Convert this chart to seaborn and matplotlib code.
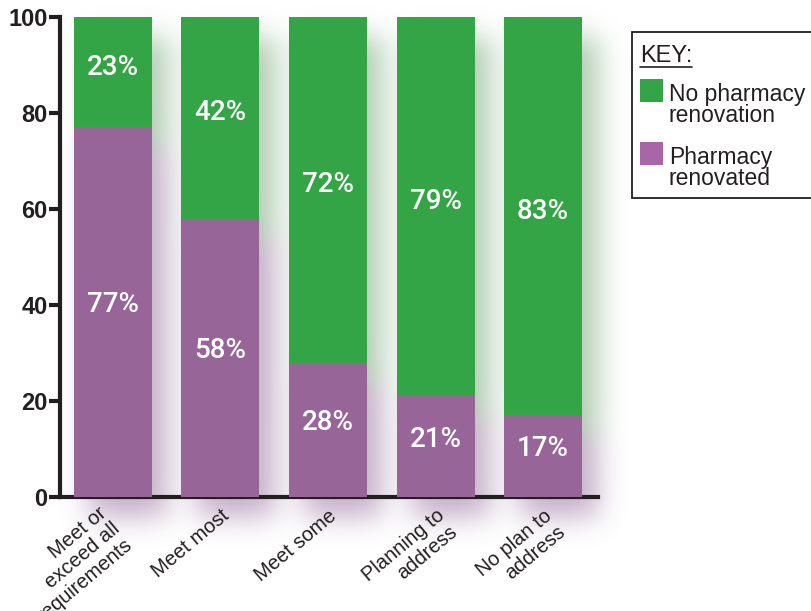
import matplotlib
matplotlib.use("Agg")
import matplotlib.pyplot as plt
import seaborn as sns
import pandas as pd
import numpy as np
from matplotlib.patches import Rectangle
from matplotlib.lines import Line2D

categories = ["Meet or\nexceed all\nrequirements", "Meet most", "Meet some",
              "Planning to\naddress", "No plan to\naddress"]
renovated = [77, 58, 28, 21, 17]
no_renovation = [23, 42, 72, 79, 83]
yticks = [0, 20, 40, 60, 80, 100]
legend_title = "KEY:"
legend_labels = ["No pharmacy\nrenovation", "Pharmacy\nrenovated"]

green = "#34a546"
purple = "#976597"
purple_key = "#a866a8"
ink = "#231f20"

sns.set_theme(style="white")
plt.rcParams["font.family"] = ["Liberation Sans", "DejaVu Sans"]

df = pd.DataFrame({"cat": categories,
                   "total": [r + n for r, n in zip(renovated, no_renovation)],
                   "renovated": renovated,
                   "no_renovation": no_renovation})

W, H = 811, 611
fig = plt.figure(figsize=(W / 100, H / 100), dpi=100)
fig.patch.set_facecolor("white")
ax = fig.add_axes([60 / W, 1 - 497 / H, (598 - 60) / W, (497 - 17) / H])
ax.patch.set_alpha(0)

sns.barplot(data=df, x="cat", y="total", color=green, width=0.725,
            saturation=1, ax=ax, zorder=3)
sns.barplot(data=df, x="cat", y="renovated", color=purple, width=0.725,
            saturation=1, ax=ax, zorder=3)
for cont in ax.containers:
    for bar in cont:
        bar.set_linewidth(0)

ax.set_xlim(-0.49, 4.51)
ax.set_ylim(0, 100)

# percentage labels
for i, (r, n) in enumerate(zip(renovated, no_renovation)):
    ax.text(i, r + n / 2 + 1, f"{n}%", ha="center", va="center", color="white",
            fontsize=20, fontweight="medium", family=["Roboto", "DejaVu Sans"], zorder=5)
    ax.text(i, r / 2 + 1.5, f"{r}%", ha="center", va="center", color="white",
            fontsize=20, fontweight="medium", family=["Roboto", "DejaVu Sans"], zorder=5)

ax.set_yticks(yticks)
ax.set_yticklabels([str(t) for t in yticks], fontsize=17, fontweight="bold", color=ink)
ax.set_xlabel("")
ax.set_ylabel("")
ax.set_xticks(range(len(categories)))
label_kw = dict(rotation=40, ha="right", rotation_mode="anchor", fontsize=14.5,
                color=ink, multialignment="right", linespacing=1.1)
ax.set_xticklabels([""] + categories[1:], **label_kw)
# the first (three-line) label sits a little left of its tick in the original
ax.annotate(categories[0], xy=(0, 0), xycoords=ax.get_xaxis_transform(),
            xytext=(-15, -6), textcoords="offset pixels", va="top", **label_kw)
ax.tick_params(axis="y", left=True, length=8, width=3, color=ink, pad=1)
ax.tick_params(axis="x", bottom=False, pad=0.5)
for s in ["top", "right"]:
    ax.spines[s].set_visible(False)
for s in ["left", "bottom"]:
    ax.spines[s].set_linewidth(3)
    ax.spines[s].set_color(ink)
ax.spines["bottom"].set_bounds(-0.49, 4.51)

# soft drop shadow behind the bars (derived from bar patches)
fig.canvas.draw()
rgb = np.zeros((H, W, 3))
alpha = np.zeros((H, W))
off_x, off_y = 16, 20
def paint(bar, col):
    bb = bar.get_window_extent()
    x0, x1 = int(bb.x0) + off_x, int(bb.x1) + off_x
    y0, y1 = int(H - bb.y1) + off_y, int(H - bb.y0) + off_y
    c = np.array(matplotlib.colors.to_rgb(col))
    rgb[max(y0, 0):y1, max(x0, 0):x1] = c
    alpha[max(y0, 0):y1, max(x0, 0):x1] = 1
for bar in ax.containers[0]:
    paint(bar, "#5f9a62")
for bar in ax.containers[1]:
    paint(bar, "#8a6090")
sig = 14
k = np.arange(-3 * sig, 3 * sig + 1)
kern = np.exp(-k ** 2 / (2 * sig ** 2)); kern /= kern.sum()
def blur(a):
    a = np.apply_along_axis(lambda v: np.convolve(v, kern, mode="same"), 0, a)
    return np.apply_along_axis(lambda v: np.convolve(v, kern, mode="same"), 1, a)
pre = np.stack([blur(rgb[..., c] * alpha) for c in range(3)], axis=-1)
al = blur(alpha)
col = np.where(al[..., None] > 1e-4, pre / np.maximum(al[..., None], 1e-4), 1)
img = np.dstack([col, al * 0.5])
fig.figimage(np.clip(img, 0, 1), xo=0, yo=0, origin="upper", zorder=-1)

# key box
def fx(px):
    return px / W
def fy(py):
    return 1 - py / H
fig.add_artist(Rectangle((fx(632), fy(198)), fx(812) - fx(632), fy(32) - fy(198),
                         transform=fig.transFigure, facecolor="white",
                         edgecolor=ink, lw=1.3, zorder=2))
t = fig.text(fx(640), fy(62), legend_title, fontsize=17, color=ink,
             ha="left", va="baseline", zorder=3)
fig.canvas.draw()
tb = t.get_window_extent()
fig.add_artist(Line2D([tb.x0 / W, tb.x1 / W], [fy(67), fy(67)],
                      transform=fig.transFigure, color=ink, lw=1.2, zorder=3))
key_colors = [green, purple_key]
sq_tops = [79, 142]
for lab, c, top in zip(legend_labels, key_colors, sq_tops):
    fig.add_artist(Rectangle((fx(640), fy(top + 23)), fx(23), fy(0) - fy(23),
                             transform=fig.transFigure, facecolor=c,
                             edgecolor="none", zorder=3))
    for j, line in enumerate(lab.split("\n")):
        fig.text(fx(669), fy(top + 22 + 21 * j), line, fontsize=16.5, color=ink,
                 ha="left", va="baseline", zorder=3)

fig.savefig("out.png", dpi=100, facecolor="white")
